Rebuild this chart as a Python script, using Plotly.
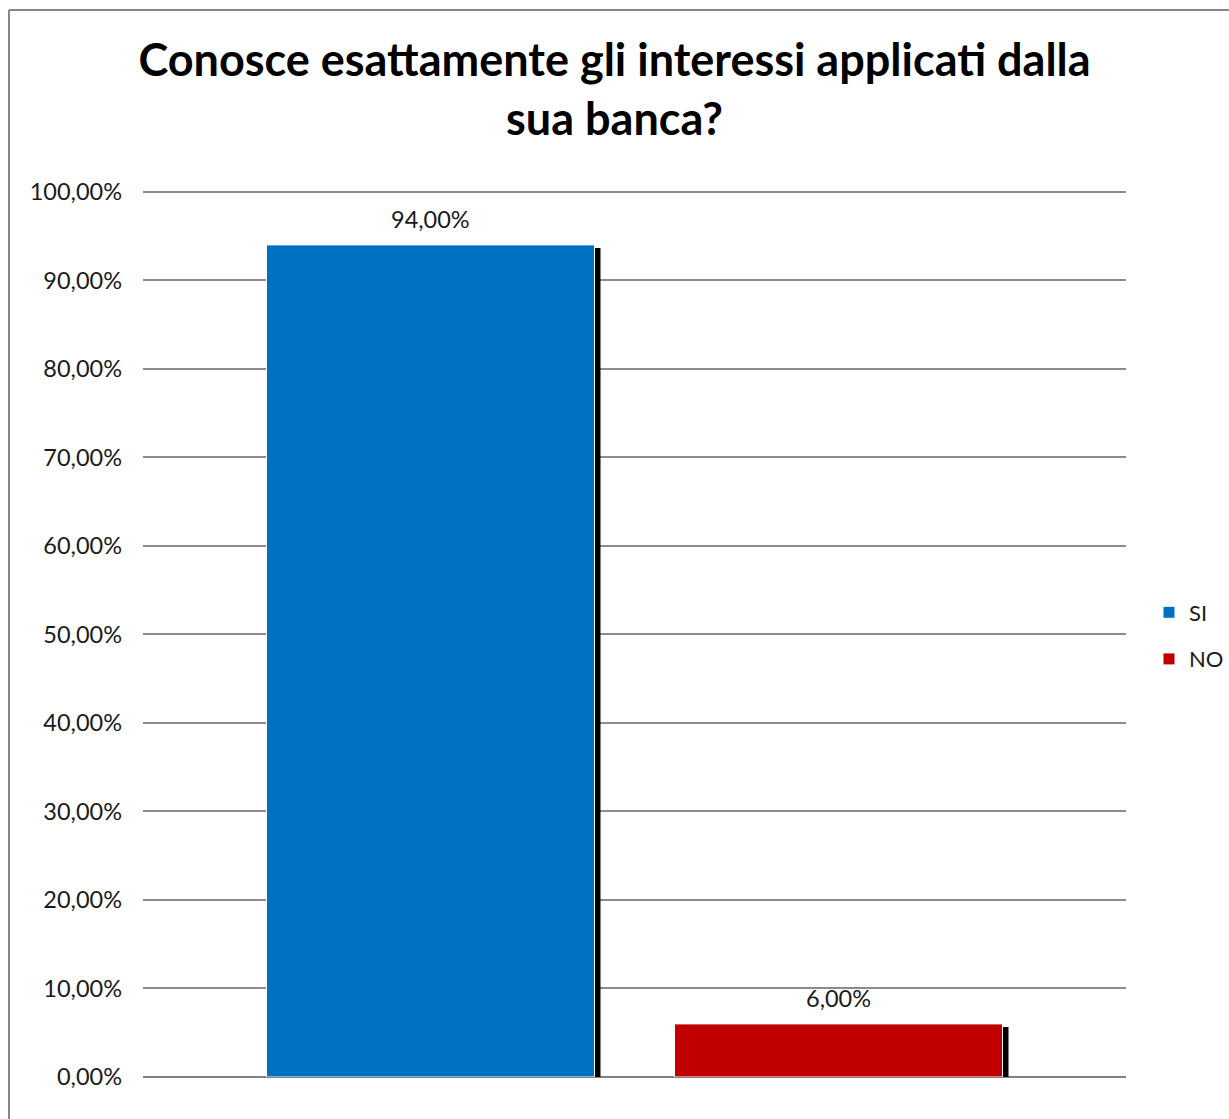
import plotly.graph_objects as go

# Survey answers
series_names = ["SI", "NO"]
series_values = [94.0, 6.0]
series_colors = ["#0070C0", "#C00000"]
tick_values = [0, 10, 20, 30, 40, 50, 60, 70, 80, 90, 100]


def pct_label(v):
    return f"{v:.2f}".replace(".", ",") + "%"


tick_labels = [pct_label(v) for v in tick_values]

title_text = "Conosce esattamente gli interessi applicati dalla<br>sua banca?"

W, H = 1229, 1119
ML, MR, MT, MB = 143, 103, 190, 42
plot_w = W - ML - MR
plot_h = H - MT - MB

FONT = "Lato"
TXT = 23.5

# bar geometry in x data units (plot spans -0.5..0.5)
bar_w = 328 / plot_w
inner_gap = 80 / plot_w
offsets = [-inner_gap / 2 - bar_w, inner_gap / 2]
shadow_dx = 6 / plot_w
shadow_dy = 3 / plot_h * 100

fig = go.Figure()

# drop shadows behind each bar
for name, val, off in zip(series_names, series_values, offsets):
    fig.add_trace(go.Bar(
        x=[0], y=[val - shadow_dy], width=[bar_w], offset=[off + shadow_dx],
        marker=dict(color="black", line=dict(width=0)),
        showlegend=False, hoverinfo="skip",
    ))

for name, val, off, col in zip(series_names, series_values, offsets, series_colors):
    fig.add_trace(go.Bar(
        x=[0], y=[val], width=[bar_w], offset=[off], name=name,
        legendgroup=name,
        marker=dict(color=col, line=dict(color="white", width=1)),
    ))
    # value label above the bar
    fig.add_annotation(
        x=off + bar_w / 2, y=val, xref="x", yref="y",
        text=pct_label(val), showarrow=False,
        yanchor="bottom", xanchor="center", yshift=10,
        font=dict(family=FONT, size=TXT, color="#1a1a1a"),
    )

# chart frame (left and top edges)
fx = (9 - ML) / plot_w
fy = (H - MB - 10) / plot_h
fig.add_shape(type="line", xref="paper", yref="paper", x0=fx, x1=fx, y0=-0.2, y1=fy,
              line=dict(color="#868686", width=2))
fig.add_shape(type="line", xref="paper", yref="paper", x0=fx, x1=1.2, y0=fy, y1=fy,
              line=dict(color="#868686", width=2))

fig.update_layout(
    width=W, height=H,
    margin=dict(l=ML, r=MR, t=MT, b=MB, autoexpand=False),
    paper_bgcolor="white", plot_bgcolor="white",
    barmode="overlay",
    font=dict(family=FONT, size=TXT, color="#1a1a1a"),
    title=dict(
        text=title_text, x=0.5, xref="container", xanchor="center",
        y=1 - 76 / H, yref="container", yanchor="middle",
        font=dict(family=FONT, size=45, color="black", weight="bold"),
    ),
    legend=dict(
        x=(1149 - ML) / plot_w, xanchor="left",
        y=(H - MB - 636) / plot_h, yanchor="middle",
        font=dict(family=FONT, size=22, color="#1a1a1a"),
        tracegroupgap=15, bgcolor="rgba(0,0,0,0)",
    ),
    showlegend=True,
)

fig.update_xaxes(range=[-0.5, 0.5], showticklabels=False, showgrid=False,
                 zeroline=False, showline=False, fixedrange=True)
fig.update_yaxes(range=[0, 100.2], tickvals=tick_values, ticktext=tick_labels,
                 showgrid=True, gridcolor="#8c8c8c", gridwidth=1.5,
                 zeroline=True, zerolinecolor="#808080", zerolinewidth=2,
                 showline=False, ticks="", ticklabelstandoff=20,
                 tickfont=dict(family=FONT, size=TXT, color="#1a1a1a"))

fig.write_html("out.html")
